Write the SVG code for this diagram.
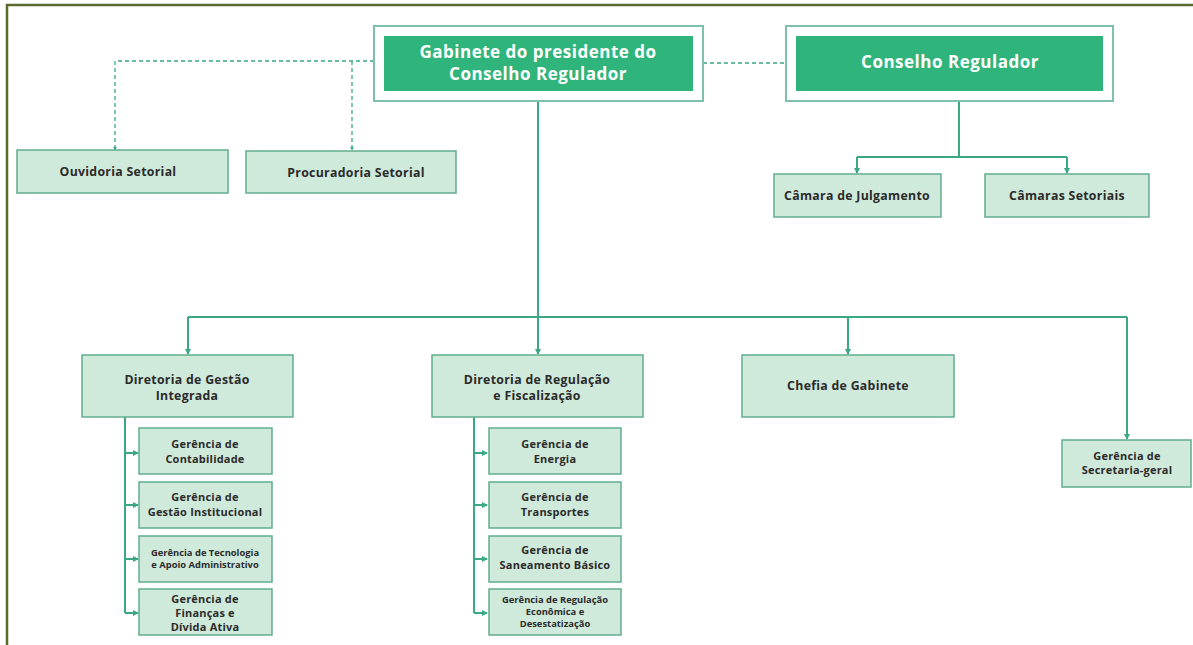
<svg xmlns="http://www.w3.org/2000/svg" width="1193" height="645" viewBox="0 0 1193 645">
<defs>
<style>
.frame{stroke:#5b6a2e;stroke-width:2.5;fill:none}
.outer{fill:#ffffff;stroke:#7fbfae;stroke-width:2}
.main{fill:#2fb57b}
.box{fill:#cfe9da;stroke:#62ad8f;stroke-width:1.5}
.conn{stroke:#3aa883;stroke-width:2;fill:none}
.dash{stroke:#3aa883;stroke-width:1.3;fill:none;stroke-dasharray:4 3}
.tw{font-family:"Open Sans","Liberation Sans",sans-serif;font-weight:700;fill:#ffffff;font-size:17px;letter-spacing:0.5px;text-anchor:middle}
.t{font-family:"Open Sans","Liberation Sans",sans-serif;font-weight:700;fill:#2b2b2b;font-size:12.3px;letter-spacing:0.3px;text-anchor:middle}
.ts{font-family:"Open Sans","Liberation Sans",sans-serif;font-weight:700;fill:#2b2b2b;font-size:11px;letter-spacing:0.2px;text-anchor:middle}
.tx{font-family:"Open Sans","Liberation Sans",sans-serif;font-weight:700;fill:#2b2b2b;font-size:9.4px;text-anchor:middle}
</style>
<marker id="dot" viewBox="0 0 6 6" refX="5" refY="3" markerWidth="3" markerHeight="3" orient="auto">
<path d="M0,0 L6,3 L0,6 z" fill="#3aa883"/>
</marker>
</defs>
<rect width="1193" height="645" fill="#ffffff"/>
<path class="frame" d="M7,645 V5 H1193"/>

<g id="connectors">
<path class="dash" d="M374,61 H115 V150" marker-end="url(#dot)"/>
<path class="dash" d="M352,61 V150" marker-end="url(#dot)"/>
<path class="dash" d="M703,63 H786"/>
<path class="conn" d="M959,101 V157"/>
<path class="conn" d="M857,157 H1067"/>
<path class="conn" d="M857,157 V173" marker-end="url(#dot)"/>
<path class="conn" d="M1067,157 V173" marker-end="url(#dot)"/>
<path class="conn" d="M538,101 V354" marker-end="url(#dot)"/>
<path class="conn" d="M188,317 H1127"/>
<path class="conn" d="M188,317 V354" marker-end="url(#dot)"/>
<path class="conn" d="M848,317 V354" marker-end="url(#dot)"/>
<path class="conn" d="M1127,317 V439" marker-end="url(#dot)"/>
<path class="conn" d="M125,417 V613"/>
<path class="conn" d="M125,453 H138" marker-end="url(#dot)"/>
<path class="conn" d="M125,505 H138" marker-end="url(#dot)"/>
<path class="conn" d="M125,559 H138" marker-end="url(#dot)"/>
<path class="conn" d="M125,613 H138" marker-end="url(#dot)"/>
<path class="conn" d="M474,417 V613"/>
<path class="conn" d="M474,453 H487" marker-end="url(#dot)"/>
<path class="conn" d="M474,505 H487" marker-end="url(#dot)"/>
<path class="conn" d="M474,559 H487" marker-end="url(#dot)"/>
<path class="conn" d="M474,613 H487" marker-end="url(#dot)"/>
</g>

<g id="gabinete">
<rect class="outer" x="374" y="26" width="329" height="75"/>
<rect class="main" x="384" y="36" width="309" height="55"/>
<text class="tw" x="538" y="58">Gabinete do presidente do</text>
<text class="tw" x="538" y="80">Conselho Regulador</text>
</g>
<g id="conselho">
<rect class="outer" x="786" y="26" width="327" height="75"/>
<rect class="main" x="796" y="36" width="307" height="55"/>
<text class="tw" x="950" y="68">Conselho Regulador</text>
</g>
<g id="ouvidoria">
<rect class="box" x="17" y="150" width="211" height="43"/>
<text class="t" x="118" y="176">Ouvidoria Setorial</text>
</g>
<g id="procuradoria">
<rect class="box" x="246" y="151" width="210" height="42"/>
<text class="t" x="356" y="177">Procuradoria Setorial</text>
</g>
<g id="camara-julgamento">
<rect class="box" x="774" y="174" width="167" height="43"/>
<text class="t" x="857" y="200">Câmara de Julgamento</text>
</g>
<g id="camaras-setoriais">
<rect class="box" x="985" y="174" width="164" height="43"/>
<text class="t" x="1067" y="200">Câmaras Setoriais</text>
</g>
<g id="diretoria-gestao">
<rect class="box" x="82" y="355" width="211" height="62"/>
<text class="t" x="187" y="384">Diretoria de Gestão</text>
<text class="t" x="187" y="400">Integrada</text>
</g>
<g id="diretoria-regulacao">
<rect class="box" x="432" y="355" width="211" height="62"/>
<text class="t" x="537" y="384">Diretoria de Regulação</text>
<text class="t" x="537" y="400">e Fiscalização</text>
</g>
<g id="chefia">
<rect class="box" x="742" y="355" width="212" height="62"/>
<text class="t" x="848" y="390">Chefia de Gabinete</text>
</g>
<g id="secretaria">
<rect class="box" x="1062" y="440" width="129" height="47"/>
<text class="ts" x="1127" y="460">Gerência de</text>
<text class="ts" x="1127" y="474">Secretaria-geral</text>
</g>
<g id="contabilidade">
<rect class="box" x="139" y="428" width="133" height="46"/>
<text class="ts" x="205" y="448">Gerência de</text>
<text class="ts" x="205" y="463">Contabilidade</text>
</g>
<g id="gestao-institucional">
<rect class="box" x="139" y="482" width="133" height="46"/>
<text class="ts" x="205" y="501">Gerência de</text>
<text class="ts" x="205" y="516">Gestão Institucional</text>
</g>
<g id="tecnologia">
<rect class="box" x="139" y="536" width="133" height="46"/>
<text class="tx" x="205" y="556">Gerência de Tecnologia</text>
<text class="tx" x="205" y="568">e Apoio Administrativo</text>
</g>
<g id="financas">
<rect class="box" x="139" y="589" width="133" height="46"/>
<text class="ts" x="205" y="603">Gerência de</text>
<text class="ts" x="205" y="617">Finanças e</text>
<text class="ts" x="205" y="631">Dívida Ativa</text>
</g>
<g id="energia">
<rect class="box" x="489" y="428" width="132" height="46"/>
<text class="ts" x="555" y="448">Gerência de</text>
<text class="ts" x="555" y="463">Energia</text>
</g>
<g id="transportes">
<rect class="box" x="489" y="482" width="132" height="46"/>
<text class="ts" x="555" y="501">Gerência de</text>
<text class="ts" x="555" y="516">Transportes</text>
</g>
<g id="saneamento">
<rect class="box" x="489" y="536" width="132" height="46"/>
<text class="ts" x="555" y="554">Gerência de</text>
<text class="ts" x="555" y="569">Saneamento Básico</text>
</g>
<g id="regulacao-economica">
<rect class="box" x="489" y="589" width="132" height="46"/>
<text class="tx" x="555" y="603">Gerência de Regulação</text>
<text class="tx" x="555" y="615">Econômica e</text>
<text class="tx" x="555" y="627">Desestatização</text>
</g>
</svg>
